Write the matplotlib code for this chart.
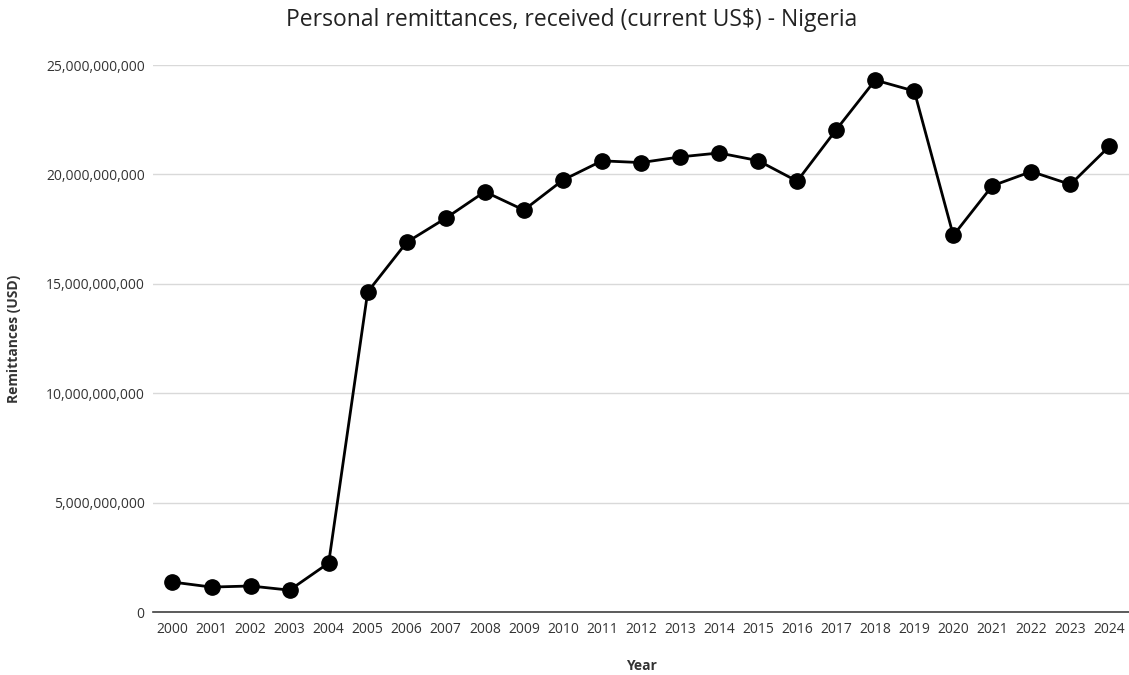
"""
Personal remittances received - Nigeria, line chart
"""

import matplotlib.pyplot as plt
from matplotlib.ticker import FuncFormatter

years = [str(y) for y in range(2000, 2025)]
remittances = [
    1.37e9, 1.14e9, 1.19e9, 1.00e9, 2.24e9,
    14.63e9, 16.90e9, 18.00e9, 19.21e9, 18.37e9,
    19.74e9, 20.62e9, 20.54e9, 20.80e9, 20.98e9,
    20.63e9, 19.69e9, 22.04e9, 24.31e9, 23.81e9,
    17.21e9, 19.48e9, 20.13e9, 19.54e9, 21.29e9,
]

plt.rcParams['font.family'] = ['Open Sans', 'DejaVu Sans']

fig = plt.figure(figsize=(11.29, 6.75), dpi=100)
ax = fig.add_axes([0.1355, 0.0933, 0.8645, 0.8104])

x = range(len(years))
ax.plot(x, remittances, color='black', linewidth=2, marker='o',
        markersize=11, zorder=3)

ax.set_xlim(-0.5, len(years) - 0.5)
ax.set_ylim(0, 25e9)
ax.set_yticks([0, 5e9, 10e9, 15e9, 20e9, 25e9])
ax.yaxis.set_major_formatter(FuncFormatter(lambda v, p: f'{int(v):,}'))
ax.set_xticks(list(x))
ax.set_xticklabels(years)

ax.grid(axis='y', color='#d9d9d9', linewidth=1)
ax.set_axisbelow(True)
for side in ['top', 'right', 'left']:
    ax.spines[side].set_visible(False)
ax.spines['bottom'].set_color('#404040')
ax.spines['bottom'].set_linewidth(1.2)
ax.tick_params(axis='both', length=0, labelsize=10, colors='#333333')
ax.tick_params(axis='y', pad=6)
ax.tick_params(axis='x', pad=7)

ax.set_xlabel('Year', fontsize=10, fontweight='bold', color='#333333',
              labelpad=16)
ax.set_ylabel('Remittances (USD)', fontsize=10, fontweight='bold',
              color='#333333', labelpad=18)
fig.suptitle('Personal remittances, received (current US$) - Nigeria',
             x=0.506, y=0.988, fontsize=16.5, color='#222222')

plt.savefig('out.png', dpi=100)
